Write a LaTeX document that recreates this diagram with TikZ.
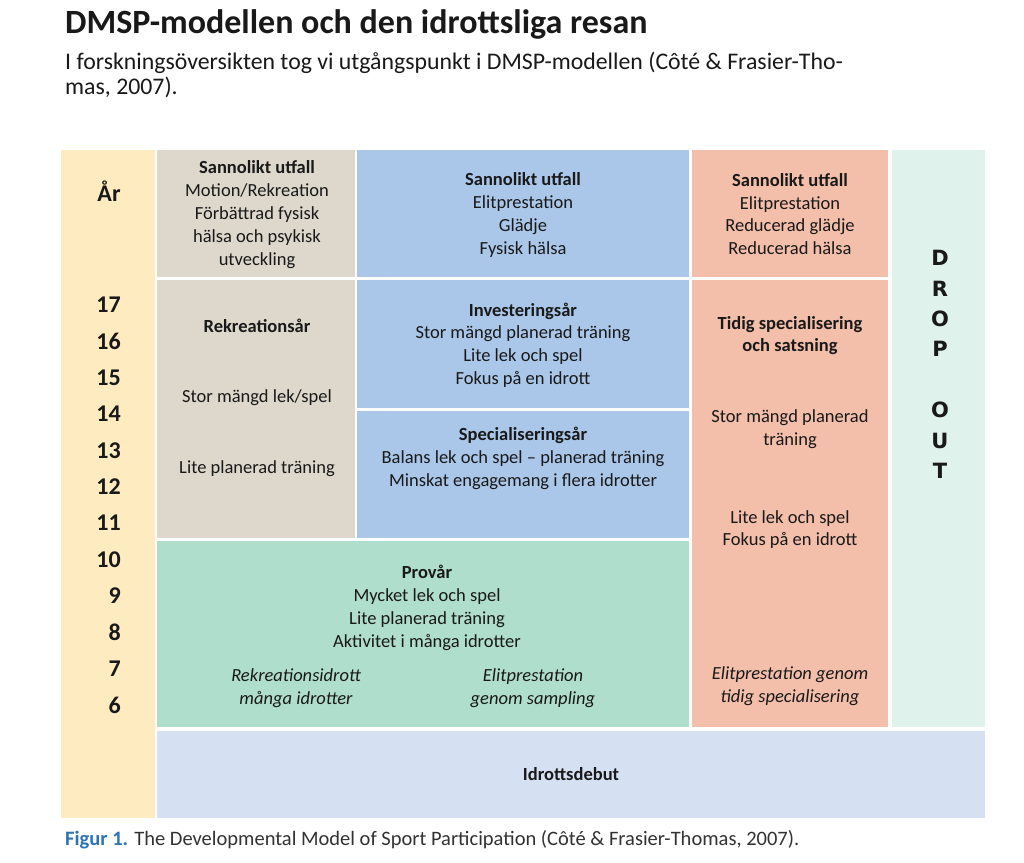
\documentclass[tikz,border=0pt]{standalone}
\usepackage{fontspec}
\setmainfont{Carlito}
\newfontfamily\dejavu{DejaVu Sans}
\definecolor{cYellow}{RGB}{255,235,192}
\definecolor{cBeige}{RGB}{222,215,204}
\definecolor{cBlue}{RGB}{170,199,234}
\definecolor{cSalmon}{RGB}{243,190,170}
\definecolor{cGreen}{RGB}{176,222,205}
\definecolor{cMint}{RGB}{224,242,236}
\definecolor{cDebut}{RGB}{213,224,243}
\definecolor{txt}{RGB}{25,25,25}
\definecolor{capblue}{RGB}{46,116,181}
\definecolor{capgrey}{RGB}{50,50,50}
\begin{document}
\begin{tikzpicture}[x=1pt,y=-1pt,
  every node/.style={inner sep=0pt,text=txt},
  cell/.style={align=center,font=\fontsize{18.5}{22.8}\selectfont},
  year/.style={anchor=east,font=\fontsize{24}{28}\selectfont\bfseries},
  drop/.style={font=\dejavu\bfseries\fontsize{21}{24}\selectfont}]
\useasboundingbox[fill=white] (0,0) rectangle (1024,862);
% title
\node[anchor=base west,font=\fontsize{34}{38}\selectfont\bfseries] (title) at (65,33) {DMSP-modellen och den idrottsliga resan};
\node[anchor=base west,font=\fontsize{23.8}{25}\selectfont] (sub1) at (65,69) {I forskningsöversikten tog vi utgångspunkt i DMSP-modellen (Côté \& Frasier-Tho-};
\node[anchor=base west,font=\fontsize{23.8}{25}\selectfont] (sub2) at (65,94) {mas, 2007).};
% cells
\fill[cYellow] (61,150) rectangle (155,818);
\fill[cBeige] (157,150) rectangle (355,277);
\fill[cBeige] (157,280) rectangle (355,538);
\fill[cBlue] (357,150) rectangle (689,277);
\fill[cBlue] (357,280) rectangle (689,408);
\fill[cBlue] (357,411) rectangle (689,538);
\fill[cGreen] (157,541) rectangle (689,727);
\fill[cSalmon] (692,150) rectangle (888,277);
\fill[cSalmon] (692,280) rectangle (888,727);
\fill[cMint] (892,150) rectangle (985,727);
\fill[cDebut] (157,731) rectangle (985,818);
% year column
\node[font=\fontsize{24}{28}\selectfont\bfseries] (ar) at (109,191) {År};
\foreach \n in {17,16,...,6}{
  \node[year] (y\n) at (121,{305+36.36*(17-\n)}) {\n};
}
% beige
\node[cell] (bTop) at (257,214.5) {\textbf{Sannolikt utfall}\\Motion/Rekreation\\Förbättrad fysisk\\hälsa och psykisk\\utveckling};
\node[cell,font=\fontsize{18.5}{22.8}\selectfont\bfseries] (rek) at (257,326) {Rekreationsår};
\node[cell] (rek1) at (257,398) {Stor mängd lek/spel};
\node[cell] (rek2) at (257,469) {Lite planerad träning};
% blue
\node[cell] (blTop) at (523,215) {\textbf{Sannolikt utfall}\\Elitprestation\\Glädje\\Fysisk hälsa};
\node[cell] (inv) at (523,345) {\textbf{Investeringsår}\\Stor mängd planerad träning\\Lite lek och spel\\Fokus på en idrott};
\node[cell] (spec) at (523,458.5) {\textbf{Specialiseringsår}\\Balans lek och spel – planerad träning\\Minskat engagemang i flera idrotter};
% salmon
\node[cell] (sTop) at (790,214) {\textbf{Sannolikt utfall}\\Elitprestation\\Reducerad glädje\\Reducerad hälsa};
\node[cell,font=\fontsize{18.5}{22.8}\selectfont\bfseries] (tidig) at (790,335.5) {Tidig specialisering\\och satsning};
\node[cell] (s1) at (790,429.5) {Stor mängd planerad\\träning};
\node[cell] (s2) at (790,529.5) {Lite lek och spel\\Fokus på en idrott};
\node[cell,font=\fontsize{18.5}{22.8}\selectfont\itshape] (s3) at (790,686) {Elitprestation genom\\tidig specialisering};
% green
\node[cell] (prov) at (427,608) {\textbf{Provår}\\Mycket lek och spel\\Lite planerad träning\\Aktivitet i många idrotter};
\node[cell,font=\fontsize{18.5}{22.8}\selectfont\itshape] (g1) at (296,688) {Rekreationsidrott\\många idrotter};
\node[cell,font=\fontsize{18.5}{22.8}\selectfont\itshape] (g2) at (533,688) {Elitprestation\\genom sampling};
% debut
\node[cell,font=\fontsize{18.5}{22.8}\selectfont\bfseries] (debut) at (571,774) {Idrottsdebut};
% drop out
\foreach \l/\yy/\nm in {D/258/d1,R/289/d2,O/319/d3,P/349/d4,O/410/d5,U/441/d6,T/471/d7}{
  \node[drop] (\nm) at (940,\yy) {\l};
}
% caption
\node[anchor=base west,font=\fontsize{20.5}{24}\selectfont,text=capgrey] (cap) at (65,845) {\textcolor{capblue}{\bfseries Figur 1.} The Developmental Model of Sport Participation (Côté \& Frasier-Thomas, 2007).};
\end{tikzpicture}
\end{document}
